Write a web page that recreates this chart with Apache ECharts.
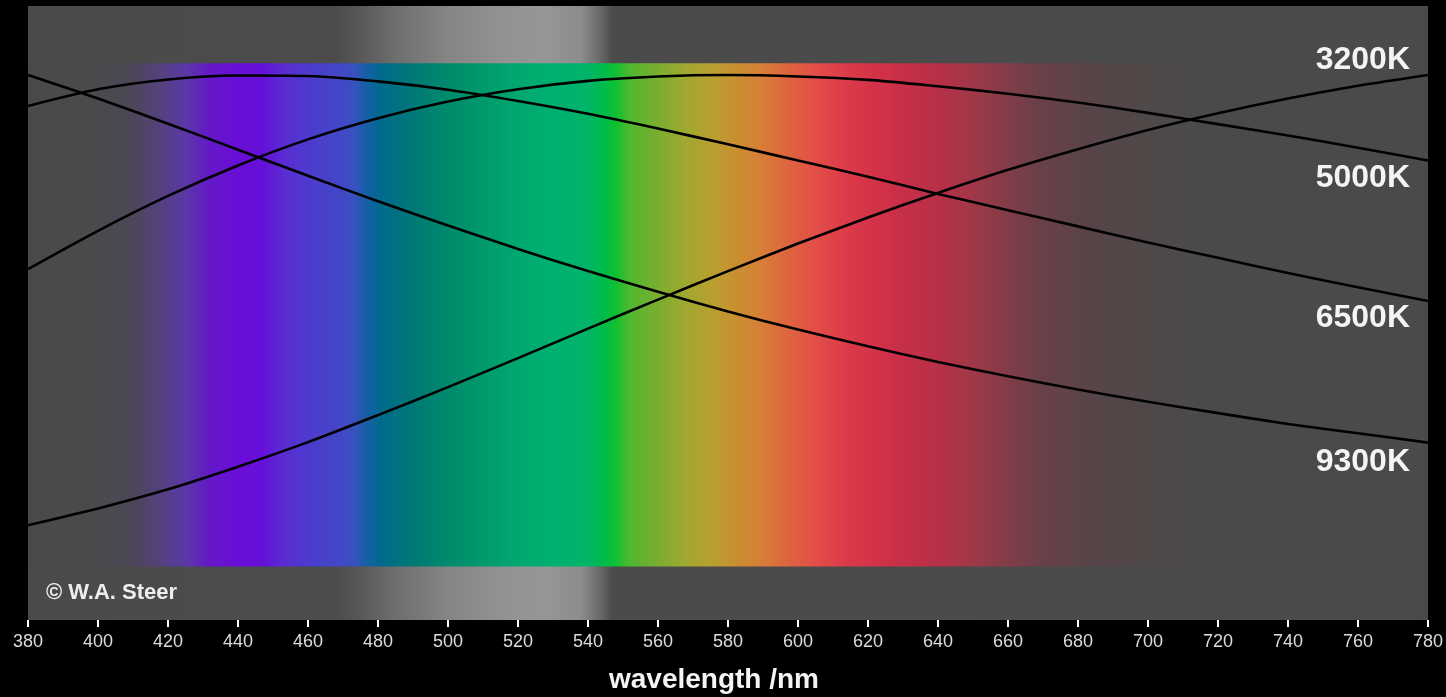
<!DOCTYPE html>
<html>
<head>
<meta charset="utf-8">
<script src="https://cdn.jsdelivr.net/npm/echarts@6/dist/echarts.min.js"></script>
<style>
html,body{margin:0;padding:0;background:#000;}
#chart{width:1446px;height:697px;}
</style>
</head>
<body>
<div id="chart"></div>
<script>
// wavelength (nm) sample points
const wavelengths = [380,400,420,440,460,480,500,520,540,560,580,600,620,640,660,680,700,720,740,760,780];
// relative intensity (normalised to 1 at each curve's maximum in the range)
const k3200 = [0.084,0.118,0.157,0.203,0.253,0.308,0.365,0.424,0.484,0.543,0.601,0.657,0.710,0.760,0.807,0.849,0.888,0.922,0.952,0.978,1.000];
const k5000 = [0.605,0.683,0.754,0.816,0.869,0.912,0.946,0.971,0.988,0.997,1.000,0.997,0.990,0.977,0.962,0.944,0.923,0.900,0.877,0.852,0.826];
const k6500 = [0.937,0.971,0.991,0.999,0.998,0.987,0.970,0.947,0.921,0.891,0.859,0.826,0.793,0.758,0.725,0.692,0.659,0.628,0.597,0.568,0.540];
const k9300 = [1.000,0.952,0.901,0.848,0.795,0.743,0.694,0.646,0.601,0.559,0.519,0.482,0.448,0.416,0.387,0.360,0.335,0.312,0.290,0.271,0.252];
const seriesNames = ['3200K','5000K','6500K','9300K'];
const xTicks = {min:380, max:780, interval:20};

// spectrum colour stops: wavelength -> colour
const specNm  = [380,400,410,418,425,432,440,447,453,462,470,473,476,481,491,500,510,520,530,540,545,548,552,558,568,575,582,590,598,605,614,627,641,650,659,669,683,700,715,780];
const specCol = ['#4a4a4a','#4a4a4c','#4c4658','#55417e','#5a38a6','#6418c8','#6a0ed6','#6410d8','#5a2cd2','#4a3ecc','#4248c6','#3a50c0','#1a5eaa','#006a8c','#007a74','#008a6c','#009a6c','#00a870','#00b070','#00b468','#00bc48','#10c030','#50b830','#70b030','#a0a830','#b8a030','#c89030','#d87c38','#de6240','#e24e48','#dc3a48','#cc2f48','#b63048','#a03848','#843c48','#6a4048','#584448','#4f4848','#4b4a4a','#4a4a4a'];
// luminance band colour stops
const grayNm  = [380,468,475,485,500,515,528,538,543,547,780];
const grayCol = ['#4a4a4a','#4c4c4c','#585858','#6e6e6e','#858585','#929292','#969696','#8c8c8c','#6c6c6c','#4b4b4b','#4a4a4a'];

const yMin = -0.1089, yMax = 1.1404, bandTop = 1.024;

function stops(nms, cols){
  return nms.map((n,i)=>({offset:(n-xTicks.min)/(xTicks.max-xTicks.min), color:cols[i]}));
}
const series = [k3200,k5000,k6500,k9300].map((arr,si)=>({
  name: seriesNames[si],
  type:'line',
  smooth:0.3,
  smoothMonotone:'none',
  symbol:'none',
  silent:true,
  z:3,
  lineStyle:{color:'#000',width:2.6},
  data: wavelengths.map((w,i)=>[w,arr[i]])
}));
series[0].markArea = {
  silent:true,
  data:[
    [{coord:[xTicks.min,yMin], itemStyle:{color:new echarts.graphic.LinearGradient(0,0,1,0,stops(grayNm,grayCol))}},{coord:[xTicks.max,yMax]}],
    [{coord:[xTicks.min,0], itemStyle:{color:new echarts.graphic.LinearGradient(0,0,1,0,stops(specNm,specCol))}},{coord:[xTicks.max,bandTop]}]
  ]
};

const labelFont = 'bold 32px "Liberation Sans", Arial, sans-serif';
const chart = echarts.init(document.getElementById('chart'));
chart.setOption({
  backgroundColor:'#000',
  animation:false,
  grid:{left:28,right:15,top:6,bottom:77,show:true,backgroundColor:'#4a4a4a',borderWidth:0},
  xAxis:{
    type:'value', min:xTicks.min, max:xTicks.max, interval:xTicks.interval,
    axisLine:{show:false,onZero:false},
    axisTick:{show:true,length:7,lineStyle:{color:'#ffffff',width:2}},
    axisLabel:{color:'#dcdcdc',fontSize:18,margin:13,fontFamily:'Liberation Sans, Arial, sans-serif'},
    splitLine:{show:false}
  },
  yAxis:{type:'value',min:yMin,max:yMax,show:false,splitLine:{show:false}},
  series: series,
  graphic:[
    {type:'text',z:100,x:1410,y:60,style:{text:'3200K',fill:'#f4f4f4',font:labelFont,textAlign:'right',textVerticalAlign:'middle'}},
    {type:'text',z:100,x:1410,y:178,style:{text:'5000K',fill:'#f4f4f4',font:labelFont,textAlign:'right',textVerticalAlign:'middle'}},
    {type:'text',z:100,x:1410,y:318,style:{text:'6500K',fill:'#f4f4f4',font:labelFont,textAlign:'right',textVerticalAlign:'middle'}},
    {type:'text',z:100,x:1410,y:462,style:{text:'9300K',fill:'#f4f4f4',font:labelFont,textAlign:'right',textVerticalAlign:'middle'}},
    {type:'text',z:100,x:46,y:593,style:{text:'© W.A. Steer',fill:'#eeeeee',font:'bold 22px "Liberation Sans", Arial, sans-serif',textAlign:'left',textVerticalAlign:'middle'}},
    {type:'text',z:100,x:714,y:680,style:{text:'wavelength /nm',fill:'#f4f4f4',font:'bold 28px "Liberation Sans", Arial, sans-serif',textAlign:'center',textVerticalAlign:'middle'}}
  ]
});
</script>
</body>
</html>
